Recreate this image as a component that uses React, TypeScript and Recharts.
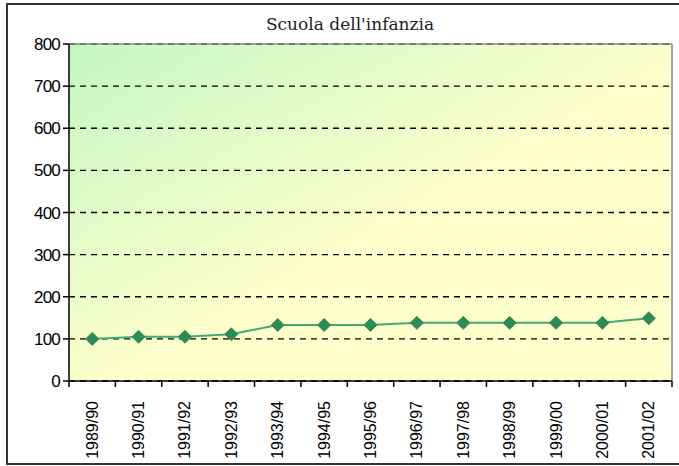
import React from "react";
import { LineChart, Line, XAxis, YAxis, CartesianGrid, ReferenceLine } from "recharts";

const years = [
  "1989/90", "1990/91", "1991/92", "1992/93", "1993/94", "1994/95", "1995/96",
  "1996/97", "1997/98", "1998/99", "1999/00", "2000/01", "2001/02",
];
const values = [100, 105, 105, 111, 133, 133, 133, 138, 138, 138, 138, 138, 149];
const yTicks = [0, 100, 200, 300, 400, 500, 600, 700, 800];

const data = years.map((year, i) => ({ year, pos: i + 0.5, value: values[i] }));
const bandTicks = Array.from({ length: years.length + 1 }, (_, i) => i);
const labelTicks = years.map((_, i) => i + 0.5);

const Diamond = (props: any) => {
  const { cx, cy } = props;
  if (cx == null || cy == null) return null;
  const r = 6.5;
  return (
    <polygon
      points={`${cx},${cy - r} ${cx + r},${cy} ${cx},${cy + r} ${cx - r},${cy}`}
      fill="#2e8b57"
      stroke="#2e8b57"
    />
  );
};

const YearTick = (props: any) => {
  const { x, y, payload } = props;
  const label = years[Math.floor(payload.value)];
  return (
    <text
      x={x}
      y={y}
      transform={`rotate(-90, ${x}, ${y})`}
      textAnchor="end"
      dominantBaseline="central"
      fontFamily="'Liberation Sans', Arial, sans-serif"
      fontSize={16}
      fill="#000"
    >
      {label}
    </text>
  );
};

export default function App() {
  return (
    <div
      style={{
        position: "absolute",
        left: 6,
        top: 3,
        width: 690,
        height: 458,
        border: "2px solid #333",
        background: "#fff",
      }}
    >
      <div
        style={{
          position: "absolute",
          left: 0,
          width: 684,
          top: 9,
          textAlign: "center",
          fontFamily: "'DejaVu Serif', serif",
          fontSize: 17,
          color: "#222",
        }}
      >
        Scuola dell'infanzia
      </div>
      <LineChart
        width={671}
        height={458}
        data={data}
        margin={{ top: 39, right: 7, left: 0, bottom: 0 }}
      >
        <defs>
          <linearGradient id="plotBg" x1="0" y1="0" x2="1" y2="1">
            <stop offset="0%" stopColor="#c4f7c4" />
            <stop offset="55%" stopColor="#ffffcc" />
            <stop offset="100%" stopColor="#ffffcc" />
          </linearGradient>
        </defs>
        <CartesianGrid
          vertical={false}
          stroke="#000"
          strokeWidth={1.3}
          strokeDasharray="6 5"
          fill="url(#plotBg)"
          fillOpacity={1}
        />
        <XAxis
          xAxisId="a_marks"
          type="number"
          dataKey="pos"
          domain={[0, years.length]}
          ticks={bandTicks}
          interval={0}
          tickFormatter={() => ""}
          height={6}
          tickSize={6}
          axisLine={{ stroke: "#000", strokeWidth: 1.5 }}
          tickLine={{ stroke: "#000", strokeWidth: 1.5 }}
          allowDataOverflow
        />
        <XAxis
          xAxisId="b_labels"
          type="number"
          dataKey="pos"
          domain={[0, years.length]}
          ticks={labelTicks}
          interval={0}
          height={76}
          axisLine={false}
          tickLine={false}
          tickSize={0}
          tickMargin={14}
          tick={<YearTick />}
          allowDataOverflow
        />
        <YAxis
          domain={[0, 800]}
          ticks={yTicks}
          width={61}
          tickSize={6}
          tickMargin={3}
          interval={0}
          axisLine={{ stroke: "#000", strokeWidth: 1.5 }}
          tickLine={{ stroke: "#000", strokeWidth: 1.5 }}
          tick={{
            fill: "#000",
            fontSize: 17,
            fontFamily: "'Liberation Sans', Arial, sans-serif",
            letterSpacing: -0.8,
          }}
        />
        <ReferenceLine xAxisId="a_marks" y={800} stroke="#888" strokeWidth={1.5} />
        <ReferenceLine xAxisId="a_marks" x={years.length} stroke="#888" strokeWidth={1.5} />
        <Line
          xAxisId="a_marks"
          type="linear"
          dataKey="value"
          stroke="#45a775"
          strokeWidth={2}
          dot={<Diamond />}
          activeDot={false}
          isAnimationActive={false}
        />
      </LineChart>
    </div>
  );
}
